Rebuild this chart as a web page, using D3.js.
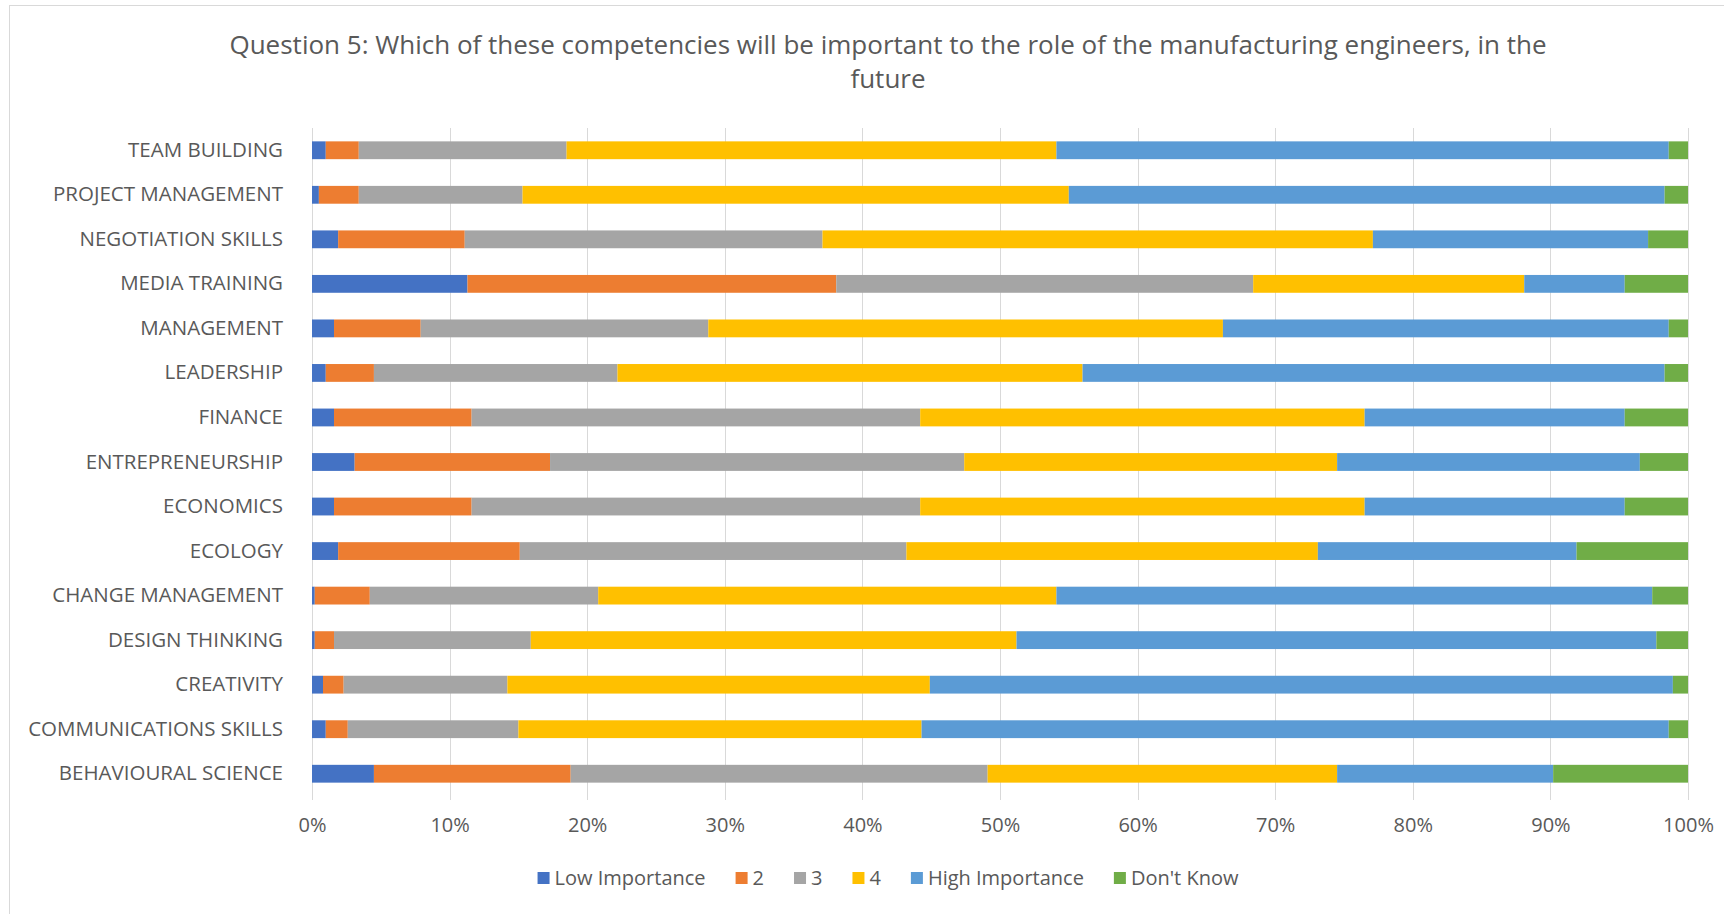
<!DOCTYPE html>
<html lang="en">
<head>
<meta charset="UTF-8">
<title>Question 5</title>
<script src="https://cdn.jsdelivr.net/npm/d3@7"></script>
<style>
    body { margin: 0; background: #fff; }
    text { font-family: "Open Sans", sans-serif; fill: #595959; }
</style>
</head>
<body>
<script>

    var titleLines = ["Question 5: Which of these competencies will be important to the role of the manufacturing engineers, in the", "future"];

    var categories = ["TEAM BUILDING", "PROJECT MANAGEMENT", "NEGOTIATION SKILLS", "MEDIA TRAINING", "MANAGEMENT",
        "LEADERSHIP", "FINANCE", "ENTREPRENEURSHIP", "ECONOMICS", "ECOLOGY", "CHANGE MANAGEMENT",
        "DESIGN THINKING", "CREATIVITY", "COMMUNICATIONS SKILLS", "BEHAVIOURAL SCIENCE"];

    var seriesNames = ["Low Importance", "2", "3", "4", "High Importance", "Don't Know"];
    var seriesColors = ["#4472C4", "#ED7D31", "#A5A5A5", "#FFC000", "#5B9BD5", "#70AD47"];

    // percent of answers, one value per category (top to bottom)
    var lowImportance = [1.0, 0.5, 1.9, 11.3, 1.6, 1.0, 1.6, 3.1, 1.6, 1.9, 0.2, 0.2, 0.8, 1.0, 4.5];
    var rating2 = [2.4, 2.9, 9.2, 26.8, 6.3, 3.5, 10.0, 14.2, 10.0, 13.2, 4.0, 1.4, 1.5, 1.6, 14.3];
    var rating3 = [15.1, 11.9, 26.0, 30.3, 20.9, 17.7, 32.6, 30.1, 32.6, 28.1, 16.6, 14.3, 11.9, 12.4, 30.3];
    var rating4 = [35.6, 39.7, 40.0, 19.7, 37.4, 33.8, 32.3, 27.1, 32.3, 29.9, 33.3, 35.3, 30.7, 29.3, 25.4];
    var highImportance = [44.5, 43.3, 20.0, 7.3, 32.4, 42.3, 18.9, 22.0, 18.9, 18.8, 43.3, 46.5, 54.0, 54.3, 15.7];
    var dontKnow = [1.4, 1.7, 2.9, 4.6, 1.4, 1.7, 4.6, 3.5, 4.6, 8.1, 2.6, 2.3, 1.1, 1.4, 9.8];

    var xTicks = [0, 0.1, 0.2, 0.3, 0.4, 0.5, 0.6, 0.7, 0.8, 0.9, 1];

    var seriesData = [lowImportance, rating2, rating3, rating4, highImportance, dontKnow];

    var rows = categories.map(function (c, i) {
        var row = {category: c};
        seriesNames.forEach(function (s, j) { row[s] = seriesData[j][i]; });
        return row;
    });

    var W = 1724, H = 914;
    var margin = {top: 128, right: 36, bottom: 118, left: 312};

    var svg = d3.select("body").append("svg")
        .attr("width", W)
        .attr("height", H);

    // chart area border (cropped on the right/bottom in the original)
    svg.append("rect")
        .attr("x", 9.5).attr("y", 5.5)
        .attr("width", W + 40).attr("height", H + 40)
        .attr("fill", "#fff")
        .attr("stroke", "#d9d9d9");

    var chartCenter = 888;

    svg.append("g").selectAll("text")
        .data(titleLines)
        .enter().append("text")
        .attr("x", chartCenter)
        .attr("y", function (d, i) { return 54 + i * 34; })
        .attr("text-anchor", "middle")
        .style("font-size", "26px")
        .text(function (d) { return d; });

    var x = d3.scaleLinear()
        .domain([0, 1])
        .range([margin.left, W - margin.right]);

    var y = d3.scaleBand()
        .domain(categories)
        .range([margin.top, H - margin.bottom])
        .paddingInner(0.6)
        .paddingOuter(0.3);

    // gridlines
    svg.append("g").selectAll("line")
        .data(xTicks)
        .enter().append("line")
        .attr("x1", function (d) { return Math.round(x(d)) + 0.5; })
        .attr("x2", function (d) { return Math.round(x(d)) + 0.5; })
        .attr("y1", margin.top)
        .attr("y2", H - margin.bottom + 4)
        .attr("stroke", "#d9d9d9");

    var stack = d3.stack()
        .keys(seriesNames)
        .offset(d3.stackOffsetExpand);

    var layers = stack(rows);

    svg.append("g").selectAll("g")
        .data(layers)
        .enter().append("g")
        .attr("fill", function (d, i) { return seriesColors[i]; })
        .selectAll("rect")
        .data(function (d) { return d; })
        .enter().append("rect")
        .attr("x", function (d) { return x(d[0]); })
        .attr("width", function (d) { return x(d[1]) - x(d[0]); })
        .attr("y", function (d) { return y(d.data.category); })
        .attr("height", y.bandwidth());

    var xAxis = d3.axisBottom(x)
        .tickValues(xTicks)
        .tickSize(0)
        .tickPadding(22)
        .tickFormat(d3.format(".0%"));

    var xg = svg.append("g")
        .attr("transform", "translate(0," + (H - margin.bottom) + ")")
        .call(xAxis);
    xg.select(".domain").remove();
    xg.selectAll("text").style("font-size", "20px").attr("fill", "#595959");

    var yAxis = d3.axisLeft(y)
        .tickSize(0)
        .tickPadding(29);

    var yg = svg.append("g")
        .attr("transform", "translate(" + margin.left + ",0)")
        .call(yAxis);
    yg.select(".domain").remove();
    yg.selectAll("text").style("font-size", "20.5px").attr("fill", "#595959");

    // legend
    var legend = svg.append("g");
    var lx = 0;
    var items = legend.selectAll("g")
        .data(seriesNames)
        .enter().append("g");
    items.append("rect")
        .attr("width", 12).attr("height", 12)
        .attr("y", -6)
        .attr("fill", function (d, i) { return seriesColors[i]; });
    items.append("text")
        .attr("x", 17)
        .attr("dy", "0.35em")
        .style("font-size", "20px")
        .text(function (d) { return d; });
    items.each(function () {
        var g = d3.select(this);
        g.attr("transform", "translate(" + lx + ",0)");
        lx += 17 + g.select("text").node().getComputedTextLength() + 30;
    });
    legend.attr("transform", "translate(" + (chartCenter - (lx - 30) / 2) + ",878)");

</script>
</body>
</html>
